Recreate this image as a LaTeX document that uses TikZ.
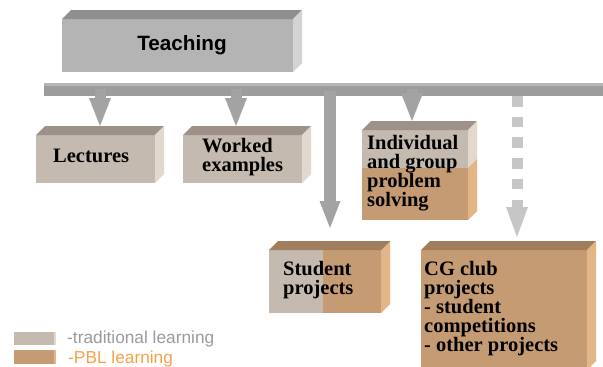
\documentclass[tikz,border=0pt]{standalone}
\usepackage{fontspec}
\setmainfont{Liberation Serif}
\newfontfamily\arialfont{Liberation Sans}
\usepackage{tikz}
\usetikzlibrary{arrows.meta}
\definecolor{fronttch}{HTML}{B4B4B4}
\definecolor{toptch}{HTML}{8F8F8F}
\definecolor{sidetch}{HTML}{D3D3D3}
\definecolor{fronttrd}{HTML}{C5BAB0}
\definecolor{toptrd}{HTML}{9D918A}
\definecolor{sidetrd}{HTML}{E3D8CD}
\definecolor{frontpbl}{HTML}{C49B72}
\definecolor{toppbl}{HTML}{A07D5C}
\definecolor{sidepbl}{HTML}{E3B688}
\definecolor{bargray}{HTML}{9C9C9C}
\definecolor{bartop}{HTML}{B6B6B6}
\definecolor{arrgray}{HTML}{A3A3A3}
\definecolor{dashgray}{HTML}{C6C6C6}
\definecolor{keygray}{HTML}{9A9A9A}
\definecolor{keyorange}{HTML}{F5A04A}
\tikzstyle{face}=[inner sep=0pt, outer sep=0pt]
\tikzstyle{lbl}=[inner sep=0pt, anchor=north west, align=left, font=\bfseries\fontsize{20.5}{19}\selectfont]
\tikzstyle{key}=[inner sep=0pt, anchor=base west, font=\arialfont\fontsize{17.3}{20}\selectfont]
\tikzstyle{blk}=[line width=11pt, draw=arrgray, -{Triangle[width=22pt,length=28pt,line width=0pt]}]

\begin{document}
\begin{tikzpicture}[x=1pt,y=-1pt]
    \useasboundingbox (0,0) rectangle (603,367);
    \clip (0,0) rectangle (603,367);
    \node[face, fill=fronttch, minimum width=231pt, minimum height=53pt] (teach) at (177.5,45.5) {};
    \node[face, fill=bargray, minimum width=559pt, minimum height=13pt] (bar) at (323.5,89.5) {};
    \fill[bartop] (bar.north west) rectangle ([yshift=-3pt]bar.north east);
    \node[face, fill=fronttrd, minimum width=119pt, minimum height=48pt] (lect) at (95.5,159) {};
    \node[face, fill=fronttrd, minimum width=119pt, minimum height=48pt] (work) at (242.5,159) {};
    \node[face, fill=fronttrd, minimum width=106pt, minimum height=90pt] (indiv) at (415,175) {};
    \node[face, fill=fronttrd, minimum width=112pt, minimum height=63pt] (stud) at (325,281.5) {};
    \node[face, fill=frontpbl, minimum width=166pt, minimum height=120pt] (cg) at (504,310) {};
    \foreach \b/\c in {teach/tch, lect/trd, work/trd, indiv/trd, stud/pbl, cg/pbl} {
      \fill[top\c] (\b.north west) -- ++(9,-9) -- ([shift={(9,-9)}]\b.north east) -- (\b.north east) -- cycle;
      \fill[side\c] (\b.north east) -- ++(9,-9) -- ([shift={(9,-9)}]\b.south east) -- (\b.south east) -- cycle;
    }

    % mixed boxes
    \coordinate (isplit) at (362,168);
    \fill[frontpbl] (isplit) rectangle (indiv.south east);
    \fill[sidepbl] (indiv.south east) -- (isplit -| indiv.east) -- ++(9,-9) -- ([shift={(9,-9)}]indiv.south east) -- cycle;
    \coordinate (ssplit) at (323,250);
    \fill[frontpbl] (ssplit) rectangle (stud.south east);
    \fill[toppbl] (ssplit) -- ++(9,-9) -- ([shift={(9,-9)}]stud.north east) -- (stud.north east) -- cycle;

    \node[inner sep=0pt, anchor=base, font=\arialfont\bfseries\fontsize{20.7}{24}\selectfont] (teacht) at (182,50) {Teaching};
    \node[lbl, anchor=base west] (lectt) at (53,162) {Lectures};
    \node[lbl] (workt) at (202,138) {Worked\\examples};
    \node[lbl] (indivt) at (367,135) {Individual\\and group\\problem\\solving};
    \node[lbl] (studt) at (283,261) {Student\\projects};
    \node[lbl] (cgt) at (424,261) {CG club\\projects\\- student\\competitions\\- other projects};

    \coordinate (a1) at (100,89);
    \coordinate (a2) at (236,89);
    \coordinate (a3) at (330,91);
    \coordinate (a4) at (412,89);
    \coordinate (a5) at (517,96);
    \foreach \from/\to in {a1/lect, a2/work, a4/indiv}
      \draw[blk] (\from) -- ([yshift=9pt]\from |- \to.north);
    \draw[blk, line width=12pt, -{Triangle[width=21pt,length=27pt,line width=0pt]}] (a3) -- (a3 |- 0,228);
    \draw[blk, draw=dashgray, dash pattern=on 10.5pt off 10.2pt, -{Triangle[width=22pt,length=30pt,line width=0pt]}] (a5) -- (a5 |- 0,237);

    % key
    \node[face, fill=fronttrd, minimum width=40pt, minimum height=13pt] (keytrd) at (34,338.5) {};
    \node[face, fill=frontpbl, minimum width=40pt, minimum height=14pt] (keypbl) at (34,357) {};
    \fill[sidetrd] (keytrd.north east) rectangle ([xshift=2pt]keytrd.south east);
    \fill[sidepbl] (keypbl.north east) rectangle ([xshift=2pt]keypbl.south east);
    \node[key, text=keygray] (keytrdt) at (67,343) {-traditional learning};
    \node[key, text=keyorange] (keypblt) at (68,363) {-PBL learning};
\end{tikzpicture}
\end{document}
